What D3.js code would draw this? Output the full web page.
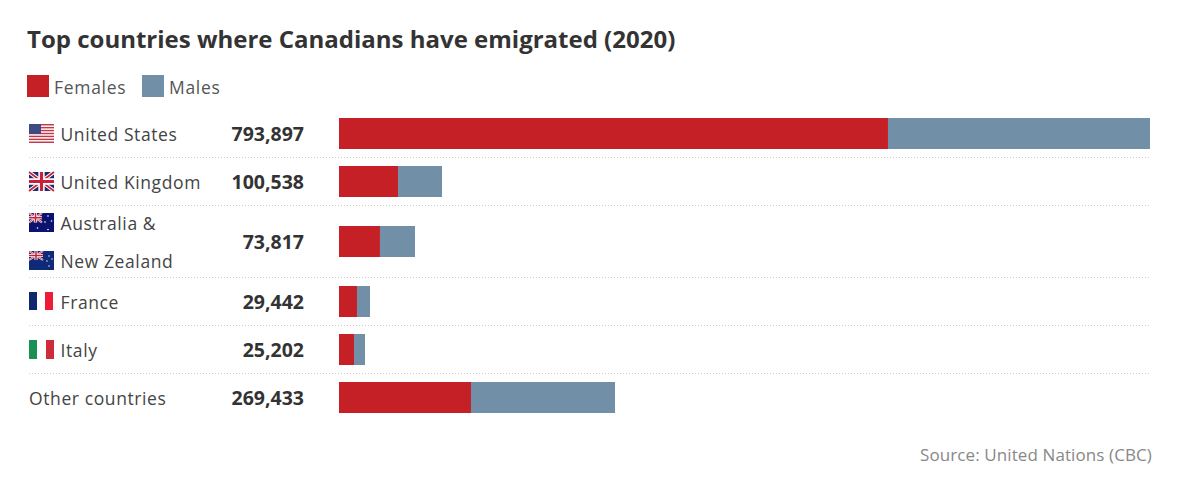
<!DOCTYPE html>
<html>
<head>
<meta charset="utf-8">
<title>Top countries where Canadians have emigrated</title>
<script src="https://d3js.org/d3.v7.min.js"></script>
<style>
  html, body { margin: 0; padding: 0; background: #fff; }
  svg { display: block; }
  text { font-family: "Open Sans", "Noto Sans", sans-serif; }
  .title { font-size: 24px; font-weight: 700; fill: #333; }
  .legend-label { font-size: 17.5px; fill: #555; letter-spacing: 0.7px; }
  .country { font-size: 17.5px; fill: #444; letter-spacing: 0.6px; }
  .total { font-size: 19.5px; font-weight: 700; fill: #333; text-anchor: end; }
  .source { font-size: 17px; fill: #888; text-anchor: end; letter-spacing: 0.1px; }
  .rule { stroke: #ccc; stroke-width: 1; stroke-dasharray: 1 2; }
</style>
</head>
<body>
<div id="chart"></div>
<script>
var countries = ["United States", "United Kingdom", "Australia & New Zealand", "France", "Italy", "Other countries"];
var totals = [793897, 100538, 73817, 29442, 25202, 269433];
var females = [537400, 57800, 40100, 17600, 14700, 129200];
var rowSpans = [1, 1, 1.5, 1, 1, 1];
var seriesNames = ["Females", "Males"];
var seriesColors = ["#c42026", "#7190a7"];

var width = 1200, height = 478;
var svg = d3.select("#chart").append("svg").attr("width", width).attr("height", height);

var rows = countries.map(function (c, i) {
  return { country: c, Females: females[i], Males: totals[i] - females[i], total: totals[i] };
});

// row edges in units of one normal row, the joined Australia row is taller
var edges = [0];
rowSpans.forEach(function (s, i) { edges.push(edges[i] + s); });
var y = d3.scaleLinear().domain([0, d3.sum(rowSpans)]).range([109.5, 421.5]);
var x = d3.scaleLinear().domain([0, d3.max(totals)]).range([339, 1150]);
var color = d3.scaleOrdinal().domain(seriesNames).range(seriesColors);
var barH = 31;

function rowMid(i) { return y((edges[i] + edges[i + 1]) / 2); }

svg.append("text").attr("class", "title").attr("x", 27).attr("y", 48)
  .text("Top countries where Canadians have emigrated (2020)");

// legend
var legendX = d3.scaleOrdinal().domain(seriesNames).range([27, 142]);
var legend = svg.selectAll(".legend").data(seriesNames).enter().append("g")
  .attr("class", "legend")
  .attr("transform", function (d) { return "translate(" + legendX(d) + ",75)"; });
legend.append("rect").attr("width", 22).attr("height", 22).attr("fill", color);
legend.append("text").attr("class", "legend-label").attr("x", 27).attr("y", 18.5).text(function (d) { return d; });

// dotted rules between rows
svg.selectAll(".rule").data(edges.slice(1, -1)).enter().append("line")
  .attr("class", "rule")
  .attr("x1", 29).attr("x2", 1150)
  .attr("y1", function (d) { return Math.round(y(d)) - 0.5; })
  .attr("y2", function (d) { return Math.round(y(d)) - 0.5; });

// stacked bars, the outer end snaps up to a whole pixel
var stack = d3.stack().keys(seriesNames)(rows);
svg.selectAll(".series").data(stack).enter().append("g")
  .attr("class", "series")
  .attr("fill", function (d) { return color(d.key); })
  .selectAll("rect").data(function (d) { return d; }).enter().append("rect")
  .attr("x", function (d) { return x(d[0]); })
  .attr("width", function (d) {
    return (d[1] === d.data.total ? Math.ceil(x(d[1])) : x(d[1])) - x(d[0]);
  })
  .attr("y", function (d, i) { return rowMid(i) - barH / 2; })
  .attr("height", barH);

// totals
svg.selectAll(".total").data(totals).enter().append("text")
  .attr("class", "total").attr("x", 304)
  .attr("y", function (d, i) { return rowMid(i) + 7; })
  .text(d3.format(","));

// flags, 25 wide and 19 high, drawn around their top left corner
function flagBase(g, bg) { g.append("rect").attr("width", 25).attr("height", 19).attr("fill", bg); }

function union(g, w, h) {
  g.append("rect").attr("width", w).attr("height", h).attr("fill", "#1f2a6d");
  g.append("path").attr("d", "M0 0L" + w + " " + h + "M" + w + " 0L0 " + h).attr("stroke", "#fff").attr("stroke-width", h / 5);
  g.append("path").attr("d", "M0 0L" + w + " " + h + "M" + w + " 0L0 " + h).attr("stroke", "#c8203a").attr("stroke-width", h / 12);
  g.append("path").attr("d", "M" + w / 2 + " 0V" + h + "M0 " + h / 2 + "H" + w).attr("stroke", "#fff").attr("stroke-width", h / 3);
  g.append("path").attr("d", "M" + w / 2 + " 0V" + h + "M0 " + h / 2 + "H" + w).attr("stroke", "#c8203a").attr("stroke-width", h / 6);
}

function stars(g, pts, r) {
  g.selectAll(".star").data(pts).enter().append("circle")
    .attr("cx", function (d) { return d[0]; }).attr("cy", function (d) { return d[1]; })
    .attr("r", r).attr("fill", "#fff");
}

var flags = {
  us: function (g) {
    flagBase(g, "#fff");
    d3.range(0, 13, 2).forEach(function (i) {
      g.append("rect").attr("y", i * 19 / 13).attr("width", 25).attr("height", 19 / 13).attr("fill", "#c0394a");
    });
    g.append("rect").attr("width", 12).attr("height", 10).attr("fill", "#3f4a80");
  },
  uk: function (g) { union(g, 25, 19); },
  au: function (g) {
    flagBase(g, "#0b1270");
    union(g, 13, 9.5);
    stars(g, [[8.5, 15], [19, 3], [22.5, 8], [19, 16.5], [16, 9]], 0.8);
  },
  nz: function (g) {
    flagBase(g, "#0f2a78");
    union(g, 14, 9);
    stars(g, [[20, 5], [23, 8], [18, 10], [20, 15]], 0.7);
  },
  fr: function (g) {
    g.append("rect").attr("width", 8).attr("height", 18).attr("fill", "#10266f");
    g.append("rect").attr("x", 16).attr("width", 8).attr("height", 18).attr("fill", "#ee1c36");
  },
  it: function (g) {
    g.append("rect").attr("width", 8).attr("height", 19).attr("fill", "#1a9153");
    g.append("rect").attr("x", 17).attr("width", 8).attr("height", 19).attr("fill", "#cf2b3a");
  }
};

function drawFlag(name, cy) {
  var g = svg.append("g").attr("transform", "translate(29," + (cy - 9.5) + ")");
  flags[name](g);
}

// country labels, Australia & New Zealand takes two lines with a flag each
var flagKeys = ["us", "uk", null, "fr", "it", null];
countries.forEach(function (c, i) {
  var mid = rowMid(i);
  if (i === 2) {
    svg.append("text").attr("class", "country").attr("x", 60.5).attr("y", mid - 12).text("Australia &");
    svg.append("text").attr("class", "country").attr("x", 60.5).attr("y", mid + 26).text("New Zealand");
    drawFlag("au", mid - 19);
    drawFlag("nz", mid + 19);
    return;
  }
  var tx = flagKeys[i] ? 60.5 : 29;
  svg.append("text").attr("class", "country").attr("x", tx).attr("y", mid + 7).text(c);
  if (flagKeys[i]) drawFlag(flagKeys[i], mid);
});

svg.append("text").attr("class", "source").attr("x", 1152).attr("y", 461).text("Source: United Nations (CBC)");
</script>
</body>
</html>
